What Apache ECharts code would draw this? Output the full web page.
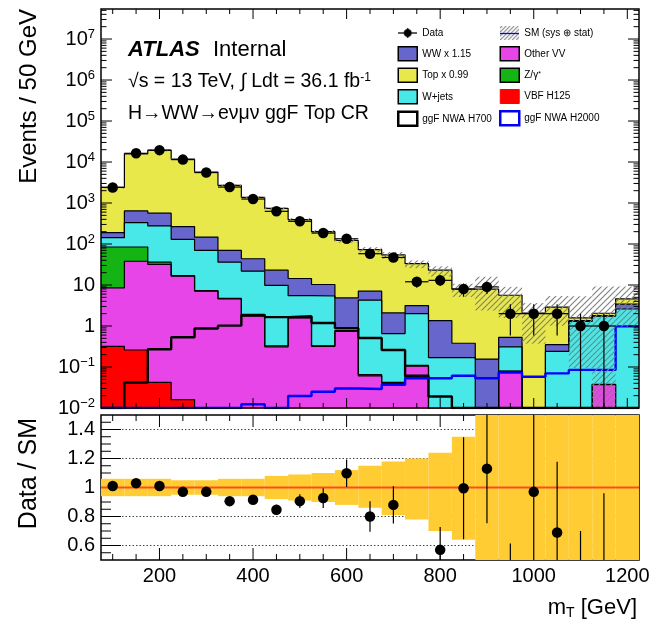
<!DOCTYPE html>
<html>
<head>
<meta charset="utf-8">
<script src="https://cdn.jsdelivr.net/npm/echarts@6/dist/echarts.min.js"></script>
<style>
html,body{margin:0;padding:0;background:#fff;}
#chart{width:654px;height:626px;}
</style>
</head>
<body>
<div id="chart"></div>
<script>
// ---------------- data ----------------
const binCenters = [100,150,200,250,300,350,400,450,500,550,600,650,700,750,800,850,900,950,1000,1050,1100,1150,1200];
const binHalfWidth = 25;
const dataCounts = [2400,16300,19500,11450,5530,2450,1250,627,358,185,134,58,47,12,13,8,9,2,2,2,1,1,0];
const topX099  = [2210,15160,18740,11530,5550,2630,1326,717,381,190,117,66,52,30,21.7,7.6,7.8,5.1,2.06,2.55,0.22,0.25,1.2];
const wwX115   = [47,310,288,136,78,34,21.9,13.2,8.9,4.9,3.95,2.81,1.43,1.15,1.18,0.21,0.156,0.22,0,0.11,0.05,0.07,0.8];
const wJets    = [58.5,248.5,240,113,62.7,31.3,19.9,9.47,3.9,5.07,0.12,4.19,0.61,1.89,0.17,0.17,0,0.23,0,0.24,1.3,1.69,2.6];
const zGamma   = [76,46.5,4.2,0.5,0.2,0.1,0.17,0.02,0.03,0.01,0.04,0.004,0.002,0.005,0,0,0,0.002,0,0,0,0.001,0];
const otherVV  = [8.2,37.7,31.8,16.5,7.1,4.6,1.73,0.31,1.57,0.32,0.74,0.061,0.04,0.105,0,0,0,0.078,0,0,0,0.037,0];
const vbfH125  = [0.32,0.26,0.042,0.016,0,0,0,0,0,0,0,0,0,0,0,0,0,0,0,0,0,0,0];
const ggfH700  = [0,0.042,0.27,0.53,0.87,1.02,1.85,1.65,1.73,1.18,0.89,0.51,0.26,0.061,0.019,0,0,0,0,0,0,0,0];
const ggfH2000 = [0,0,0,0,0,0,0.0123,0,0.0197,0.025,0.030,0.029,0.037,0.053,0.053,0.061,0.053,0.073,0.058,0.07,0.085,0.085,0.98];
const smRelDown = [0.94,0.94,0.94,0.95,0.95,0.94,0.94,0.92,0.91,0.90,0.88,0.86,0.81,0.78,0.70,0.64,0.30,0.28,0.18,0.35,0.06,0,0.21];
const smRelUp   = [1.06,1.06,1.06,1.05,1.05,1.06,1.06,1.08,1.09,1.10,1.12,1.15,1.18,1.20,1.24,1.35,2.0,1.6,1.76,1.86,3.4,4.5,2.0];
const ratioValues = [1.01,1.03,1.01,0.97,0.97,0.906,0.915,0.847,0.906,0.927,1.098,0.80,0.88,0.36,0.57,0.995,1.13,0.36,0.97,0.69,0.35,0.48,null];

// ---------------- axes / ticks ----------------
const xRange = [75, 1225];
const yMainRange = [0.01, 5.4e7];
const yRatioRange = [0.5, 1.5];
const xMajorTicks = [200,400,600,800,1000,1200];
const xMinorTicks = [100,150,250,300,350,450,500,550,650,700,750,850,900,950,1050,1100,1150];
const ratioMajorTicks = [0.6,0.8,1,1.2,1.4];
const ratioMinorTicks = [0.55,0.65,0.7,0.75,0.85,0.9,0.95,1.05,1.1,1.15,1.25,1.3,1.35,1.45];
const ratioGridLines = [0.6,0.8,1.2,1.4];
const ratioReference = 1;

const FONT = '"Liberation Sans", Arial, Helvetica, sans-serif';
const colors = {top:'#e8e84a', ww:'#6666cc', wjets:'#48e8e8', vv:'#e845e8', z:'#14b414',
  vbf:'#ff0000', h700:'#000000', h2000:'#0000ff', band:'#ffcc33', refLine:'#ff4d1a', hatch:'#808080'};

const stack = [
  {name:'VBF H125',   values:vbfH125, color:colors.vbf},
  {name:'Other VV',   values:otherVV, color:colors.vv},
  {name:'Z/γ*',       values:zGamma,  color:colors.z},
  {name:'W+jets',     values:wJets,   color:colors.wjets},
  {name:'WW x 1.15',  values:wwX115,  color:colors.ww},
  {name:'Top x 0.99', values:topX099, color:colors.top}
];
let running = binCenters.map(() => 0);
const cumulative = stack.map(p => (running = running.map((s, i) => s + p.values[i])));
const smTotal = cumulative[cumulative.length - 1];

const BELOW = 1e-4;
function stepData(vals, floor) {
  const pts = binCenters.map((c, i) => [c - binHalfWidth, vals[i] > floor ? vals[i] : floor]);
  const n = vals.length - 1;
  pts.push([binCenters[n] + binHalfWidth, vals[n] > floor ? vals[n] : floor]);
  return pts;
}

// hatch pattern
const hatchCanvas = document.createElement('canvas');
hatchCanvas.width = 6; hatchCanvas.height = 6;
(function(){ const g = hatchCanvas.getContext('2d'); g.strokeStyle = colors.hatch; g.lineWidth = 1.1;
  g.beginPath(); g.moveTo(-1,7); g.lineTo(7,-1); g.moveTo(-4,4); g.lineTo(4,-4); g.moveTo(2,10); g.lineTo(10,2); g.stroke(); })();
const hatchPattern = {image: hatchCanvas, repeat: 'repeat'};

function iconURL(draw) {
  const c = document.createElement('canvas'); c.width = 38; c.height = 28;
  const g = c.getContext('2d'); g.scale(2, 2); draw(g); return 'image://' + c.toDataURL();
}
const dataIcon = iconURL(g => {
  g.strokeStyle = '#000'; g.lineWidth = 1.3;
  g.beginPath(); g.moveTo(0, 7); g.lineTo(19, 7); g.moveTo(9.5, 2); g.lineTo(9.5, 12); g.stroke();
  g.fillStyle = '#000'; g.beginPath(); g.arc(9.5, 7, 4, 0, Math.PI * 2); g.fill();
});
const smIcon = iconURL(g => {
  g.save(); g.beginPath(); g.rect(0, 0, 19, 14); g.clip();
  g.strokeStyle = colors.hatch; g.lineWidth = 1;
  g.beginPath(); for (let x = -16; x < 22; x += 4) { g.moveTo(x, 14); g.lineTo(x + 14, 0); } g.stroke();
  g.restore();
  g.strokeStyle = colors.h2000; g.lineWidth = 1.3; g.beginPath(); g.moveTo(0, 7.5); g.lineTo(19, 7.5); g.stroke();
});

function seg(x1, y1, x2, y2, w, color, dash) {
  const st = {stroke: color || '#000', lineWidth: w || 1};
  if (dash) st.lineDash = dash;
  return {type: 'line', shape: {x1, y1, x2, y2}, style: st};
}

function mainDecor(params, api) {
  const [x0, y0] = api.coord([xRange[0], yMainRange[0]]);
  const [x1, y1] = api.coord([xRange[1], yMainRange[1]]);
  const ch = [];
  const xt = (v, len) => { const x = api.coord([v, yMainRange[0]])[0]; ch.push(seg(x, y0, x, y0 - len), seg(x, y1, x, y1 + len)); };
  xMajorTicks.forEach(v => xt(v, 10)); xMinorTicks.forEach(v => xt(v, 5));
  const yt = (v, len) => { const y = api.coord([xRange[0], v])[1]; ch.push(seg(x0, y, x0 + len, y), seg(x1, y, x1 - len, y)); };
  for (let e = -2; e <= 7; e++) for (let m = 1; m <= 9; m++) {
    const v = m * Math.pow(10, e); if (v >= yMainRange[1]) break; yt(v, m === 1 ? 11 : 5.5);
  }
  ch.push({type: 'rect', shape: {x: x0, y: y1, width: x1 - x0, height: y0 - y1}, style: {fill: 'none', stroke: '#000', lineWidth: 1.5}});
  return {type: 'group', children: ch};
}

function ratioDecor(params, api) {
  const [x0, y0] = api.coord([xRange[0], yRatioRange[0]]);
  const [x1, y1] = api.coord([xRange[1], yRatioRange[1]]);
  const ch = [];
  ratioGridLines.forEach(v => { const y = api.coord([xRange[0], v])[1]; ch.push(seg(x0, y, x1, y, 1, '#444', [1.5, 2])); });
  const xt = (v, len) => { const x = api.coord([v, yRatioRange[0]])[0]; ch.push(seg(x, y0, x, y0 - len), seg(x, y1, x, y1 + len)); };
  xMajorTicks.forEach(v => xt(v, 12)); xMinorTicks.forEach(v => xt(v, 6));
  const yt = (v, len) => { const y = api.coord([xRange[0], v])[1]; ch.push(seg(x0, y, x0 + len, y), seg(x1, y, x1 - len, y)); };
  ratioMajorTicks.forEach(v => yt(v, 20)); ratioMinorTicks.forEach(v => yt(v, 10));
  ch.push({type: 'rect', shape: {x: x0, y: y1, width: x1 - x0, height: y0 - y1}, style: {fill: 'none', stroke: '#000', lineWidth: 1.5}});
  return {type: 'group', children: ch};
}

// ---------------- series ----------------
const series = [];
for (let k = stack.length - 1; k >= 0; k--) {
  series.push({
    name: stack[k].name, type: 'line', xAxisIndex: 0, yAxisIndex: 0, step: 'end',
    symbol: 'none', showSymbol: false, silent: true, z: 2,
    data: stepData(cumulative[k], BELOW),
    itemStyle: {color: stack[k].color},
    lineStyle: {color: '#000', width: 1.2},
    areaStyle: {color: stack[k].color, opacity: 1, origin: 'start'}
  });
}
series.push({
  name: 'ggF NWA H700', type: 'line', xAxisIndex: 0, yAxisIndex: 0, step: 'end', symbol: 'none', silent: true, z: 3,
  data: stepData(ggfH700, yMainRange[0]), itemStyle: {color: colors.h700}, lineStyle: {color: colors.h700, width: 2.4}
});
series.push({
  name: 'ggF NWA H2000', type: 'line', xAxisIndex: 0, yAxisIndex: 0, step: 'end', symbol: 'none', silent: true, z: 3,
  data: stepData(ggfH2000, yMainRange[0]), itemStyle: {color: colors.h2000}, lineStyle: {color: colors.h2000, width: 2.4}
});
series.push({
  name: 'SM (sys ⊕ stat)', type: 'custom', xAxisIndex: 0, yAxisIndex: 0, silent: true, z: 4,
  itemStyle: {color: colors.hatch},
  data: binCenters.map((c, i) => [c - binHalfWidth, c + binHalfWidth, smTotal[i] * smRelDown[i], smTotal[i] * smRelUp[i]]),
  renderItem: (params, api) => {
    const lo = Math.max(api.value(2), yMainRange[0]);
    const hi = Math.min(api.value(3), yMainRange[1]);
    if (!(hi > lo)) return;
    const p1 = api.coord([api.value(0), hi]), p2 = api.coord([api.value(1), lo]);
    return {type: 'rect', shape: {x: p1[0], y: p1[1], width: p2[0] - p1[0], height: p2[1] - p1[1]}, style: {fill: hatchPattern}};
  }
});
series.push({
  name: 'data-errors', type: 'custom', xAxisIndex: 0, yAxisIndex: 0, silent: true, z: 5,
  data: binCenters.map((c, i) => [c, dataCounts[i], dataCounts[i] - Math.sqrt(dataCounts[i]), dataCounts[i] + Math.sqrt(dataCounts[i]), c - binHalfWidth, c + binHalfWidth]).filter(d => d[1] > 0),
  renderItem: (params, api) => {
    const x = api.value(0), n = api.value(1);
    const lo = Math.max(api.value(2), yMainRange[0]), hi = Math.min(api.value(3), yMainRange[1]);
    const a = api.coord([x, lo]), b = api.coord([x, hi]);
    const l = api.coord([api.value(4), n]), r = api.coord([api.value(5), n]);
    return {type: 'group', children: [seg(a[0], a[1], b[0], b[1], 1.2), seg(l[0], l[1], r[0], r[1], 1.2)]};
  }
});
series.push({
  name: 'Data', type: 'scatter', xAxisIndex: 0, yAxisIndex: 0, silent: true, z: 6, symbol: 'circle', symbolSize: 10.5,
  itemStyle: {color: '#000', opacity: 1},
  data: binCenters.map((c, i) => [c, dataCounts[i]]).filter(d => d[1] > 0)
});
series.push({
  name: 'main-frame', type: 'custom', xAxisIndex: 0, yAxisIndex: 0, silent: true, z: 10,
  data: [[xRange[0], yMainRange[0]]], renderItem: mainDecor
});

// ratio panel
series.push({
  name: 'ratio-frame', type: 'custom', xAxisIndex: 1, yAxisIndex: 1, silent: true, z: 1,
  data: [[xRange[0], yRatioRange[0]]], renderItem: ratioDecor
});
series.push({
  name: 'ratio-band', type: 'custom', xAxisIndex: 1, yAxisIndex: 1, silent: true, z: 2,
  data: binCenters.map((c, i) => [c - binHalfWidth, c + binHalfWidth, smRelDown[i], smRelUp[i]]),
  renderItem: (params, api) => {
    const lo = Math.max(api.value(2), yRatioRange[0]), hi = Math.min(api.value(3), yRatioRange[1]);
    const p1 = api.coord([api.value(0), hi]), p2 = api.coord([api.value(1), lo]);
    return {type: 'rect', shape: {x: p1[0], y: p1[1], width: p2[0] - p1[0], height: p2[1] - p1[1]}, style: {fill: colors.band}};
  }
});
series.push({
  name: 'ratio-reference', type: 'custom', xAxisIndex: 1, yAxisIndex: 1, silent: true, z: 3,
  data: [[xRange[0], ratioReference]],
  renderItem: (params, api) => {
    const a = api.coord([xRange[0], ratioReference]), b = api.coord([xRange[1], ratioReference]);
    return seg(a[0], a[1], b[0], b[1], 2, colors.refLine);
  }
});
series.push({
  name: 'ratio-errors', type: 'custom', xAxisIndex: 1, yAxisIndex: 1, silent: true, z: 4,
  data: binCenters.map((c, i) => ratioValues[i] == null || dataCounts[i] <= 0 ? null :
    [c, ratioValues[i], ratioValues[i] * (1 - 1 / Math.sqrt(dataCounts[i])), ratioValues[i] * (1 + 1 / Math.sqrt(dataCounts[i]))]).filter(Boolean),
  renderItem: (params, api) => {
    const lo = Math.max(api.value(2), yRatioRange[0]), hi = Math.min(api.value(3), yRatioRange[1]);
    if (!(hi > lo)) return;
    const a = api.coord([api.value(0), lo]), b = api.coord([api.value(0), hi]);
    return seg(a[0], a[1], b[0], b[1], 1.2);
  }
});
series.push({
  name: 'ratio-points', type: 'scatter', xAxisIndex: 1, yAxisIndex: 1, silent: true, z: 5, symbolSize: 10.5,
  clip: true, itemStyle: {color: '#000', opacity: 1},
  data: binCenters.map((c, i) => ratioValues[i] == null ? null : [c, ratioValues[i]]).filter(Boolean)
});

// ---------------- option ----------------
const legendCommon = {
  orient: 'vertical', top: 26, padding: 0, itemWidth: 19, itemHeight: 14, itemGap: 6, selectedMode: false,
  textStyle: {fontSize: 10, fontFamily: FONT, color: '#000',
    rich: {t: {fontSize: 10, fontFamily: FONT, color: '#000'}, s: {fontSize: 7, fontFamily: FONT, color: '#000', verticalAlign: 'top'}}},
  formatter: name => name === 'Z/γ*' ? '{t|Z/γ}{s|*}' : name
};
const boxItem = (name, fill, border, w) => ({name, icon: 'rect', itemStyle: {color: fill, borderColor: border, borderWidth: w}});

const supLabel = v => {
  const lg = Math.log10(v), e = Math.round(lg);
  if (Math.abs(lg - e) > 1e-6) return '';
  if (e === 0) return '{b|1}';
  if (e === 1) return '{b|10}';
  return '{b|10}{s|' + (e < 0 ? '\u2212' + (-e) : e) + '}';
};

const option = {
  animation: false,
  backgroundColor: '#fff',
  textStyle: {fontFamily: FONT},
  grid: [
    {left: 101, top: 9, width: 538, height: 399, outerBoundsMode: 'none'},
    {left: 101, top: 415, width: 538, height: 145, outerBoundsMode: 'none'}
  ],
  xAxis: [
    {gridIndex: 0, type: 'value', min: xRange[0], max: xRange[1], axisLabel: {show: false}, axisTick: {show: false}, axisLine: {show: false}, splitLine: {show: false}},
    {gridIndex: 1, type: 'value', min: xRange[0], max: xRange[1],
      axisLabel: {customValues: xMajorTicks, formatter: v => String(v), fontSize: 20, color: '#000', fontFamily: FONT, margin: 6},
      axisTick: {show: false}, axisLine: {show: false}, splitLine: {show: false}}
  ],
  yAxis: [
    {gridIndex: 0, type: 'log', logBase: 10, min: yMainRange[0], max: yMainRange[1], splitNumber: 10,
      axisLabel: {formatter: supLabel, margin: 6, color: '#000',
        rich: {b: {fontSize: 20, fontFamily: FONT, color: '#000', lineHeight: 22}, s: {fontSize: 13, fontFamily: FONT, color: '#000', verticalAlign: 'top', lineHeight: 13}}},
      axisTick: {show: false}, axisLine: {show: false}, splitLine: {show: false}, minorTick: {show: false}},
    {gridIndex: 1, type: 'value', min: yRatioRange[0], max: yRatioRange[1],
      axisLabel: {customValues: ratioMajorTicks, formatter: v => String(v), fontSize: 20, color: '#000', fontFamily: FONT, margin: 6},
      axisTick: {show: false}, axisLine: {show: false}, splitLine: {show: false}}
  ],
  legend: [
    Object.assign({left: 397, data: [
      {name: 'Data', icon: dataIcon},
      boxItem('WW x 1.15', colors.ww, '#000', 1.5),
      boxItem('Top x 0.99', colors.top, '#000', 1.5),
      boxItem('W+jets', colors.wjets, '#000', 1.5),
      boxItem('ggF NWA H700', '#fff', colors.h700, 2.5)
    ]}, legendCommon),
    Object.assign({left: 499, data: [
      {name: 'SM (sys ⊕ stat)', icon: smIcon},
      boxItem('Other VV', colors.vv, '#000', 1.5),
      boxItem('Z/γ*', colors.z, '#000', 1.5),
      boxItem('VBF H125', colors.vbf, colors.vbf, 1),
      boxItem('ggF NWA H2000', '#fff', colors.h2000, 2.5)
    ]}, legendCommon)
  ],
  graphic: [
    {type: 'text', x: 128, y: 50, style: {text: 'ATLAS', fontSize: 22, fontWeight: 'bold', fontStyle: 'italic', fontFamily: FONT, fill: '#000', verticalAlign: 'middle'}},
    {type: 'text', x: 213, y: 50, style: {text: 'Internal', fontSize: 22, fontFamily: FONT, fill: '#000', verticalAlign: 'middle'}},
    {type: 'text', x: 128, y: 82, style: {text: '{n|√s = 13 TeV, ∫ Ldt = 36.1 fb}{s|-1}', verticalAlign: 'middle', fill: '#000',
      rich: {n: {fontSize: 19.5, fontFamily: FONT, lineHeight: 20, fill: '#000'}, s: {fontSize: 12, fontFamily: FONT, verticalAlign: 'top', lineHeight: 12, fill: '#000'}}}},
    {type: 'text', x: 128, y: 114, style: {text: 'H→WW→eνμν ggF Top CR', fontSize: 19.5, fontFamily: FONT, fill: '#000', verticalAlign: 'middle'}},
    {type: 'text', x: 29, y: 9, rotation: Math.PI / 2, style: {text: 'Events / 50 GeV', fontSize: 24, fontFamily: FONT, fill: '#000', align: 'right', verticalAlign: 'middle'}},
    {type: 'text', x: 29, y: 418, rotation: Math.PI / 2, style: {text: 'Data / SM', fontSize: 25, fontFamily: FONT, fill: '#000', align: 'right', verticalAlign: 'middle'}},
    {type: 'text', x: 637, y: 608, style: {text: '{m|m}{t|T}{m| [GeV]}', align: 'right', verticalAlign: 'middle', fill: '#000',
      rich: {m: {fontSize: 22, fontFamily: FONT, lineHeight: 24, fill: '#000'}, t: {fontSize: 14, fontFamily: FONT, verticalAlign: 'bottom', lineHeight: 14, fill: '#000'}}}}
  ],
  series
};

const chart = echarts.init(document.getElementById('chart'), null, {renderer: 'canvas'});
chart.setOption(option);
</script>
</body>
</html>
